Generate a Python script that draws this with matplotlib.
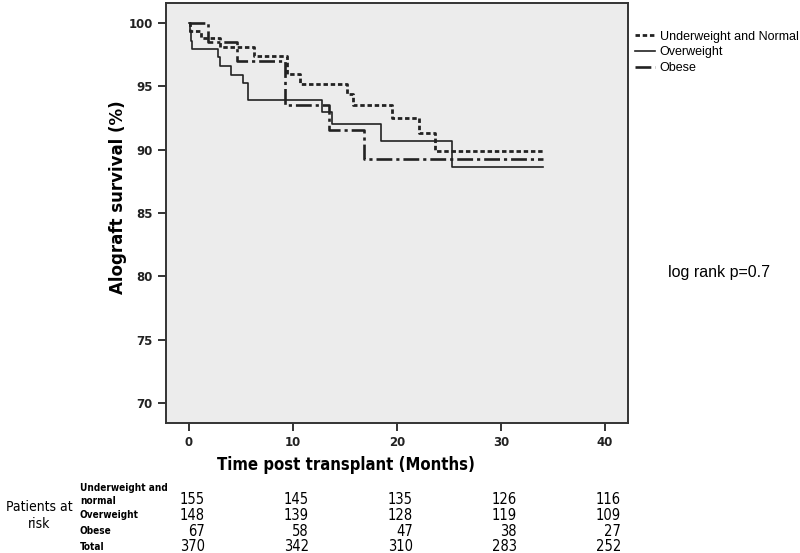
import matplotlib
matplotlib.use("Agg")
import matplotlib.pyplot as plt

# ---- data ----
uw_t = [0, 0.15, 1.15, 3.0, 6.3, 9.4, 10.7, 15.2, 15.8, 19.5, 22.1, 23.65, 34]
uw_s = [100, 99.4, 98.8, 98.1, 97.4, 96.0, 95.2, 94.4, 93.5, 92.5, 91.3, 89.9, 89.9]
ow_t = [0, 0.1, 0.2, 0.3, 2.75, 3.0, 4.0, 5.2, 5.7, 12.8, 13.8, 18.5, 25.3, 34]
ow_s = [100, 99.3, 98.6, 98.0, 97.3, 96.6, 95.9, 95.3, 93.9, 93.0, 92.0, 90.7, 88.6, 88.6]
ob_t = [0, 1.86, 4.6, 9.2, 13.5, 16.8, 34]
ob_s = [100, 98.5, 97.0, 93.5, 91.6, 89.3, 89.3]

series_names = ["Underweight and Normal", "Overweight", "Obese"]
x_ticks = [0, 10, 20, 30, 40]
y_ticks = [70, 75, 80, 85, 90, 95, 100]
risk_rows = ["Underweight and\nnormal", "Overweight", "Obese", "Total"]
risk_vals = [
    [155, 145, 135, 126, 116],
    [148, 139, 128, 119, 109],
    [67, 58, 47, 38, 27],
    [370, 342, 310, 283, 252],
]

arial = ["Liberation Sans", "DejaVu Sans"]
cond = dict(family="DejaVu Sans", fontstretch="condensed")

fig = plt.figure(figsize=(8.0, 5.53), dpi=100)
ax = fig.add_axes([0.2075, 0.235, 0.5775, 0.7596])
ax.set_facecolor("#ececec")

ax.step(uw_t, uw_s, where="post", color="#222222", lw=2.0, ls=(0, (1.6, 1.0)), label=series_names[0])
ax.step(ow_t, ow_s, where="post", color="#222222", lw=1.2, ls="-", label=series_names[1])
ax.step(ob_t, ob_s, where="post", color="#222222", lw=1.9, ls=(0, (6, 1.5, 1.2, 1.5)), label=series_names[2])

ax.set_xlim(-2.2, 42.2)
ax.set_ylim(68.4, 101.6)
ax.set_xticks(x_ticks)
ax.set_yticks(y_ticks)
for sp in ax.spines.values():
    sp.set_color("#333333")
    sp.set_linewidth(1.4)
ax.tick_params(axis="both", direction="out", length=6, width=1.4, color="#333333",
               labelsize=8.5)
for lab in ax.get_xticklabels() + ax.get_yticklabels():
    lab.set_fontweight("bold")
    lab.set_color("#222222")

ax.set_ylabel("Alograft survival (%)", fontsize=12, fontweight="bold")
ax.yaxis.set_label_coords(-0.085, 0.538)
ax.set_xlabel("Time post transplant (Months)", fontsize=12, fontweight="bold", **cond)
ax.xaxis.set_label_coords(0.39, -0.101)
ax.xaxis.label.set_va("center")

leg = ax.legend(loc="upper left", bbox_to_anchor=(0.998, 0.952), frameon=False,
                prop=dict(family=arial, size=9), handlelength=1.6, handletextpad=0.4,
                labelspacing=0.3, borderaxespad=0.2)

fig.text(0.835, 0.508, "log rank p=0.7", fontsize=11.5, family=arial, ha="left", va="center")

# risk table
row_y = [0.097, 0.068, 0.039, 0.011]
fig.text(0.049, 0.068, "Patients at\nrisk", fontsize=10, ha="center",
         va="center", linespacing=1.25, **cond)
for r, (lab, vals) in enumerate(zip(risk_rows, risk_vals)):
    fig.text(0.1, row_y[r] + (0.009 if r == 0 else 0), lab, fontsize=7.2, fontweight="bold",
             ha="left", va="center", linespacing=1.3, **cond)
    for xt, v in zip(x_ticks, vals):
        xf = fig.transFigure.inverted().transform(ax.transData.transform((xt, 0)))[0]
        fig.text(xf + 0.02, row_y[r], str(v), fontsize=10.5, ha="right", va="center", **cond)

fig.savefig("out.png", dpi=100)
